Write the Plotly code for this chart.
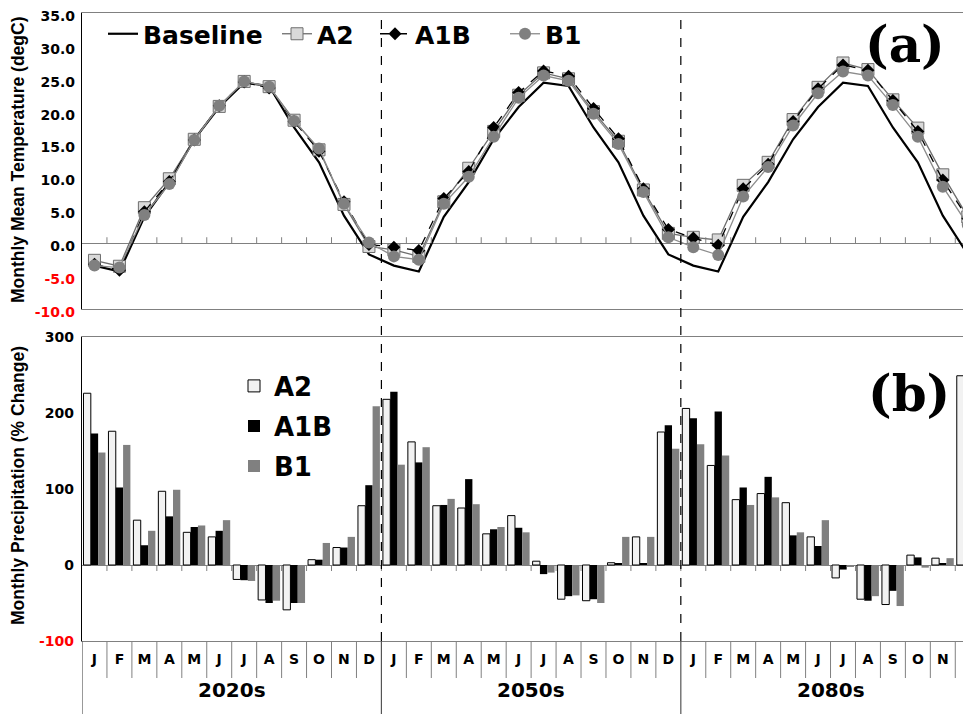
import plotly.graph_objects as go

# ---------------- data ----------------
months = ['J', 'F', 'M', 'A', 'M', 'J', 'J', 'A', 'S', 'O', 'N', 'D']
decades = ['2020s', '2050s', '2080s']

# monthly mean temperature (degC); baseline is the same climatology for every period
temp_baseline = [-3.4, -4.3, 4.0, 9.3, 15.8, 20.7, 24.4, 23.9, 17.6, 12.3, 4.2, -1.7]
temp_a2 = [-2.6, -3.5, 5.4, 9.8, 15.8, 20.8, 24.6, 23.8, 18.7, 14.2, 5.9, -0.5,
           -1.0, -2.0, 6.3, 11.4, 17.0, 22.5, 25.9, 25.0, 20.0, 15.5, 8.1, 1.5,
           0.9, 0.5, 8.8, 12.3, 18.8, 23.7, 27.4, 26.4, 21.8, 17.5, 10.4, 4.0]
temp_a1b = [-3.2, -4.1, 4.8, 9.4, 15.7, 20.9, 24.5, 23.6, 18.5, 14.0, 6.3, -0.2,
            -0.6, -1.1, 6.8, 10.9, 17.6, 22.9, 26.2, 25.4, 20.5, 15.9, 8.3, 2.1,
            0.8, -0.3, 8.3, 12.0, 18.5, 23.5, 27.1, 26.3, 21.7, 17.0, 9.6, 3.8]
temp_b1 = [-3.4, -3.7, 4.3, 9.0, 15.7, 20.9, 24.6, 23.8, 18.6, 14.4, 6.0, 0.1,
           -2.0, -2.5, 6.0, 10.1, 16.2, 22.1, 25.5, 24.7, 19.7, 15.1, 7.8, 0.9,
           -0.6, -1.8, 7.1, 11.6, 17.9, 22.8, 26.1, 25.5, 21.0, 16.2, 8.6, 2.8]

# monthly precipitation (% change)
prec_a2 = [226, 176, 59, 97, 43, 37, -19, -46, -59, 7, 23, 78,
           218, 162, 78, 75, 41, 65, 5, -45, -47, 3, 37, 175,
           206, 131, 86, 94, 82, 37, -17, -45, -52, 13, 9, 249]
prec_a1b = [173, 102, 26, 64, 50, 45, -20, -50, -50, 7, 23, 105,
            228, 135, 79, 113, 47, 49, -12, -41, -45, 2, 1.5, 184,
            193, 202, 102, 116, 39, 25, -6, -47, -34, 10, 1.5, 179]
prec_b1 = [148, 158, 45, 99, 52, 59, -21, -47, -50, 29, 37, 209,
           132, 155, 87, 80, 50, 43, -10, -40, -50, 37, 37, 153,
           159, 144, 79, 89, 43, 59, -2, -41, -54, -3.5, 9, 288]

temp_ticks = [-10, -5, 0, 5, 10, 15, 20, 25, 30, 35]
prec_ticks = [-100, 0, 100, 200, 300]

# ---------------- layout constants (screen pixels; page body adds 8 px) ----------------
OFF = 8
SCR_W, SCR_H = 971, 714
PL, PT, PR, PB = 82, 13, 971, 641      # plot area on screen
W, H = SCR_W - OFF, SCR_H - OFF
PW, PH = PR - PL, PB - PT
def py(sy):
    return (PB - sy) / PH
def px(sx):
    return (sx - PL) / PW

ARIAL = 'Liberation Sans, Arial, sans-serif'
WIDE = 'DejaVu Sans, Verdana, sans-serif'
SERIF = 'DejaVu Serif, Times New Roman, serif'
n = len(months) * len(decades)
xc = [i + 0.5 for i in range(n)]
xr = [0, 35.63]                        # last December is partly cut by the frame edge
month_labels = months * len(decades)

def red_neg(v, fmt):
    s = fmt.format(v)
    return f'<span style="color:#ff0000">{s}</span>' if v < 0 else s

fig = go.Figure()

# ---------- top panel ----------
fig.add_trace(go.Scatter(x=xc, y=temp_baseline * len(decades), name='Baseline',
                         mode='lines', line=dict(color='black', width=2.2),
                         xaxis='x', yaxis='y', legend='legend'))
fig.add_trace(go.Scatter(x=xc, y=temp_a2, name='A2', mode='lines+markers',
                         line=dict(color='#6e6e6e', width=1.3),
                         marker=dict(symbol='square', size=12, color='#d9d9d9',
                                     line=dict(color='#6e6e6e', width=1)),
                         xaxis='x', yaxis='y', legend='legend2'))
fig.add_trace(go.Scatter(x=xc, y=temp_a1b, name='A1B', mode='lines+markers',
                         line=dict(color='black', width=1.3, dash='dash'),
                         marker=dict(symbol='diamond', size=10, color='black'),
                         xaxis='x', yaxis='y', legend='legend3'))
fig.add_trace(go.Scatter(x=xc, y=temp_b1, name='B1', mode='lines+markers',
                         line=dict(color='#8c8c8c', width=1.3),
                         marker=dict(symbol='circle', size=12, color='#808080'),
                         xaxis='x', yaxis='y', legend='legend4'))

# ---------- bottom panel ----------
fig.add_trace(go.Bar(x=xc, y=prec_a2, name='A2', marker=dict(color='#f2f2f2', line=dict(color='black', width=1)),
                     xaxis='x2', yaxis='y2', legend='legend5'))
fig.add_trace(go.Bar(x=xc, y=prec_a1b, name='A1B', marker=dict(color='black', line=dict(width=0)),
                     xaxis='x2', yaxis='y2', legend='legend6'))
fig.add_trace(go.Bar(x=xc, y=prec_b1, name='B1', marker=dict(color='#808080', line=dict(width=0)),
                     xaxis='x2', yaxis='y2', legend='legend7'))

top_dom = [py(309), 1]
bot_dom = [0, py(337)]

def leg(sx, sy, size):
    return dict(orientation='v', x=px(sx), y=py(sy), xanchor='left', yanchor='middle',
                font=dict(family=WIDE, size=size, color='black', weight='bold'),
                bgcolor='rgba(0,0,0,0)', itemwidth=30, borderwidth=0,
                itemclick=False, itemdoubleclick=False)

fig.update_layout(
    width=W, height=H, margin=dict(l=PL - OFF, r=0, t=PT - OFF, b=H - (PB - OFF), autoexpand=False),
    paper_bgcolor='white', plot_bgcolor='white',
    barmode='group', bargap=0.12, bargroupgap=0,
    font=dict(family=ARIAL, color='black'),
    xaxis=dict(domain=[0, 1], anchor='y', range=xr, showticklabels=False, ticks='',
               showline=True, mirror=True, linecolor='#808080', linewidth=1.2,
               showgrid=False, zeroline=False, automargin=False),
    yaxis=dict(domain=top_dom, anchor='x', range=[-10, 35], tickmode='array',
               tickvals=temp_ticks, ticktext=[red_neg(v, '{:.1f}') for v in temp_ticks],
               tickfont=dict(family=WIDE, size=14, color='black', weight='bold'),
               ticks='', ticklabelstandoff=3, ticklabeloverflow='allow', ticklabelshift=3,
               showline=True, linecolor='black', linewidth=1.2,
               showgrid=False, zeroline=True, zerolinecolor='#808080', zerolinewidth=1.2,
               automargin=False),
    xaxis2=dict(domain=[0, 1], anchor='y2', range=xr, tickmode='array',
                tickvals=xc, ticktext=month_labels,
                tickfont=dict(family=WIDE, size=14, color='black', weight='bold'),
                ticks='outside', ticklen=5, tickcolor='rgba(0,0,0,0)',
                showline=True, mirror=True, linecolor='#808080', linewidth=1.2,
                showgrid=False, zeroline=False, automargin=False),
    yaxis2=dict(domain=bot_dom, anchor='x2', range=[-100, 300], tickmode='array',
                tickvals=prec_ticks, ticktext=[red_neg(v, '{:d}') for v in prec_ticks],
                tickfont=dict(family=WIDE, size=14, color='black', weight='bold'),
                ticks='', ticklabelstandoff=4, ticklabeloverflow='allow',
                showline=True, linecolor='black', linewidth=1.2,
                showgrid=False, zeroline=True, zerolinecolor='#808080', zerolinewidth=1.2,
                automargin=False),
    legend=leg(103, 34, 25),
    legend2=leg(277, 34, 25),
    legend3=leg(375, 34, 25),
    legend4=leg(505, 34, 25),
    legend5=leg(234, 386, 26),
    legend6=leg(234, 426, 26),
    legend7=leg(234, 466, 26),
    showlegend=True,
)

shapes = []
# tick marks on the zero lines at month boundaries
for b in range(1, n + 1):
    shapes.append(dict(type='line', xref='x', yref='y', ysizemode='pixel', yanchor=0,
                       x0=b, x1=b, y0=0, y1=6, line=dict(color='#808080', width=1)))
    shapes.append(dict(type='line', xref='x2', yref='y2', ysizemode='pixel', yanchor=0,
                       x0=b, x1=b, y0=0, y1=-6, line=dict(color='#808080', width=1)))
# month separators below the bottom axis
for b in range(1, n + 1):
    if b % 12 == 0:
        continue
    shapes.append(dict(type='line', xref='x2', yref='paper', x0=b, x1=b,
                       y0=0, y1=py(678), line=dict(color='#808080', width=1)))
# decade separators and dashed period dividers
for d in range(len(decades)):
    b = d * 12
    shapes.append(dict(type='line', xref='x2', yref='paper', x0=b, x1=b,
                       y0=py(SCR_H), y1=0, line=dict(color='#555555', width=1.2)))
    if d > 0:
        shapes.append(dict(type='line', xref='x2', yref='paper', x0=b, x1=b,
                           y0=0, y1=1, line=dict(color='black', width=1.2, dash='dash')))
fig.update_layout(shapes=shapes)

ann = []
for d, lab in enumerate(decades):
    ann.append(dict(text=lab, xref='x2', yref='paper', x=d * 12 + 6, y=py(690),
                    xanchor='center', yanchor='middle', showarrow=False,
                    font=dict(family=WIDE, size=20, color='black', weight='bold')))
# month labels whose centre falls past the cut right edge (axis does not draw them)
for c, lab in zip(xc, month_labels):
    if c > xr[1]:
        ann.append(dict(text=lab, xref='paper', yref='paper',
                        x=(c - xr[0]) / (xr[1] - xr[0]), y=py(658),
                        xanchor='center', yanchor='middle', showarrow=False,
                        font=dict(family=WIDE, size=14, color='black', weight='bold')))
ann.append(dict(text='Monthly Mean Temperature (degC)', xref='paper', yref='paper',
                x=px(18), y=py(160), xanchor='center', yanchor='middle', textangle=-90,
                showarrow=False, font=dict(family=ARIAL, size=17.5, color='black', weight='bold')))
ann.append(dict(text='Monthly Precipitation (% Change)', xref='paper', yref='paper',
                x=px(18), y=py(486), xanchor='center', yanchor='middle', textangle=-90,
                showarrow=False, font=dict(family=ARIAL, size=17.5, color='black', weight='bold')))
ann.append(dict(text='(a)', xref='paper', yref='paper', x=px(905), y=py(45),
                xanchor='center', yanchor='middle', showarrow=False,
                font=dict(family=SERIF, size=50, color='black', weight='bold')))
ann.append(dict(text='(b)', xref='paper', yref='paper', x=px(909), y=py(394),
                xanchor='center', yanchor='middle', showarrow=False,
                font=dict(family=SERIF, size=50, color='black', weight='bold')))
fig.update_layout(annotations=ann)

fig.write_html('out.html')
